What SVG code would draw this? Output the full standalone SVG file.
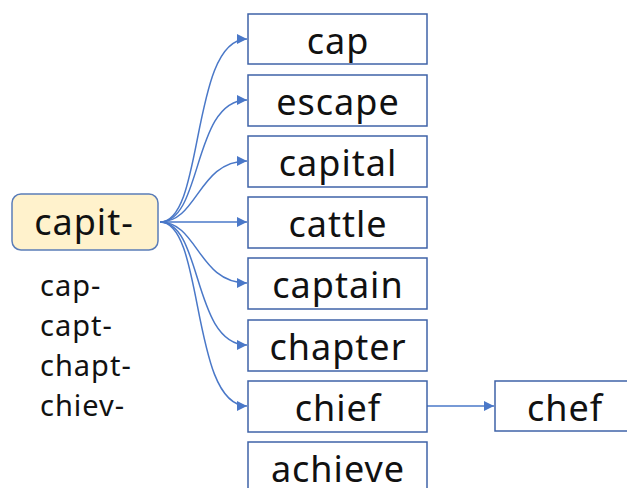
<svg xmlns="http://www.w3.org/2000/svg" width="627" height="488" viewBox="0 0 627 488">
<defs>
<style>
.box{fill:#fff;stroke:#3f63a8;stroke-width:1.5}
.root{fill:#fff2cc;stroke:#5b7db8;stroke-width:1.5}
.t{font-family:"Noto Sans","Open Sans",sans-serif;font-size:36px;fill:#111;text-anchor:middle;letter-spacing:1px}
.s{font-family:"Noto Sans","Open Sans",sans-serif;font-size:29px;fill:#111;letter-spacing:1px}
.c{fill:none;stroke:#4a78c8;stroke-width:1.5}
</style>
<marker id="ah" viewBox="0 0 10 10" refX="10" refY="5" markerWidth="11" markerHeight="10" markerUnits="userSpaceOnUse" orient="auto">
<path d="M0,0 L10,5 L0,10 z" fill="#4a78c8"/>
</marker>
</defs>
<rect width="627" height="488" fill="#fff"/>
<g id="connectors">
<path class="c" marker-end="url(#ah)" d="M160,222 C205,222 190,39 247,39"/>
<path class="c" marker-end="url(#ah)" d="M160,222 C203,222 192,100 247,100"/>
<path class="c" marker-end="url(#ah)" d="M160,222 C198,222 198,161 247,161"/>
<path class="c" marker-end="url(#ah)" d="M160,222 L247,222"/>
<path class="c" marker-end="url(#ah)" d="M160,222 C198,222 198,283 247,283"/>
<path class="c" marker-end="url(#ah)" d="M160,222 C203,222 192,345 247,345"/>
<path class="c" marker-end="url(#ah)" d="M160,222 C205,222 190,406 247,406"/>
<path class="c" marker-end="url(#ah)" d="M427,406 L494,406"/>
</g>
<g id="capit"><rect class="root" x="12" y="194" width="146" height="56" rx="9"/><text class="t" x="84" y="235">capit-</text></g>
<g id="variants">
<text class="s" x="40" y="296">cap-</text>
<text class="s" x="40" y="336">capt-</text>
<text class="s" x="40" y="376">chapt-</text>
<text class="s" x="40" y="416">chiev-</text>
</g>
<g id="cap"><rect class="box" x="248" y="14" width="179" height="50"/><text class="t" x="338" y="54">cap</text></g>
<g id="escape"><rect class="box" x="248" y="75" width="179" height="51"/><text class="t" x="338" y="115">escape</text></g>
<g id="capital"><rect class="box" x="248" y="136" width="179" height="51"/><text class="t" x="338" y="176">capital</text></g>
<g id="cattle"><rect class="box" x="248" y="197" width="179" height="51"/><text class="t" x="338" y="237">cattle</text></g>
<g id="captain"><rect class="box" x="248" y="258" width="179" height="51"/><text class="t" x="338" y="298">captain</text></g>
<g id="chapter"><rect class="box" x="248" y="320" width="179" height="51"/><text class="t" x="338" y="360">chapter</text></g>
<g id="chief"><rect class="box" x="248" y="381" width="179" height="51"/><text class="t" x="338" y="421">chief</text></g>
<g id="achieve"><rect class="box" x="248" y="442" width="179" height="60"/><text class="t" x="338" y="482">achieve</text></g>
<g id="chef"><rect class="box" x="495" y="381" width="140" height="50"/><text class="t" x="565" y="421">chef</text></g>
</svg>
